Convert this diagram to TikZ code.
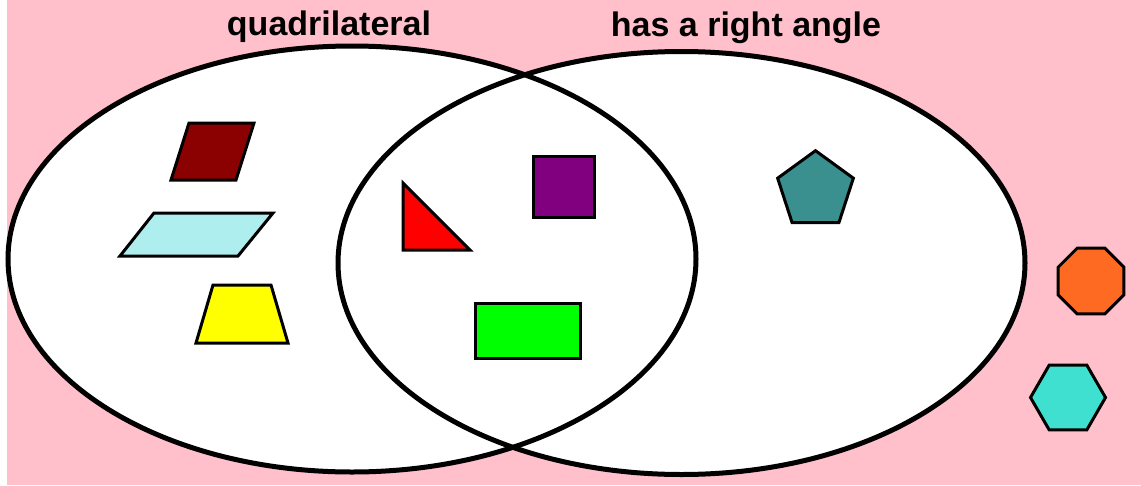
\documentclass[tikz,border=0pt]{standalone}
\usepackage{fontspec}
\setmainfont{Liberation Sans}
\definecolor{bgpink}{HTML}{FFC0CB}
\definecolor{shapedarkred}{HTML}{8B0000}
\definecolor{shapepale}{HTML}{AFEEEE}
\definecolor{shapeyellow}{HTML}{FFFF00}
\definecolor{shapered}{HTML}{FF0000}
\definecolor{shapepurple}{HTML}{800080}
\definecolor{shapelime}{HTML}{00FF00}
\definecolor{shapeteal}{HTML}{3A8F8F}
\definecolor{shapeorange}{HTML}{FF6A22}
\definecolor{shapeturq}{HTML}{40E0D0}
\begin{document}
\begin{tikzpicture}[x=1pt,y=-1pt,
  setline/.style={line width=5pt,draw=black},
  shapeline/.style={line width=3pt,draw=black,line join=miter},
  title/.style={font=\bfseries\fontsize{34}{40}\selectfont,inner sep=0pt,anchor=base}]
\useasboundingbox (0,0) rectangle (1141,485);
\fill[white] (0,0) rectangle (1141,485);
\fill[bgpink] (7,0) rectangle (1141,485);
% set fills
\fill[white] (352,259) ellipse [x radius=344,y radius=213];
\fill[white] (681.5,263) ellipse [x radius=343.5,y radius=211.5];
% set outlines
\draw[setline] (352,259) ellipse [x radius=344,y radius=213];
\draw[setline] (681.5,263) ellipse [x radius=343.5,y radius=211.5];
% titles
\node[title] (quad) at (329,35) {quadrilateral};
\node[title] (right) at (746,36) {has a right angle};
% quadrilaterals only
\filldraw[shapeline,fill=shapedarkred] (189,123) -- (254,123) -- (236,180) -- (171,180) -- cycle;
\filldraw[shapeline,fill=shapepale] (154,213) -- (273,213) -- (238,256) -- (120,256) -- cycle;
\filldraw[shapeline,fill=shapeyellow] (213,285) -- (271,285) -- (288,343) -- (196,343) -- cycle;
% both
\filldraw[shapeline,fill=shapered] (403,183) -- (403,250) -- (470,250) -- cycle;
\filldraw[shapeline,fill=shapepurple] (533.5,156) rectangle (594.5,217);
\filldraw[shapeline,fill=shapelime] (475,303.5) rectangle (580.5,358.5);
% right angle only
\filldraw[shapeline,fill=shapeteal] (815.5,190.5) +(-90:39.8) -- +(-18:39.8) -- +(54:39.8) -- +(126:39.8) -- +(198:39.8) -- cycle;
% neither
\filldraw[shapeline,fill=shapeorange] (1091,281) +(22.5:35.7) -- +(67.5:35.7) -- +(112.5:35.7) -- +(157.5:35.7) -- +(202.5:35.7) -- +(247.5:35.7) -- +(292.5:35.7) -- +(337.5:35.7) -- cycle;
\filldraw[shapeline,fill=shapeturq] (1068,397.5) +(0:37.5) -- +(60:37.5) -- +(120:37.5) -- +(180:37.5) -- +(240:37.5) -- +(300:37.5) -- cycle;
\end{tikzpicture}
\end{document}
